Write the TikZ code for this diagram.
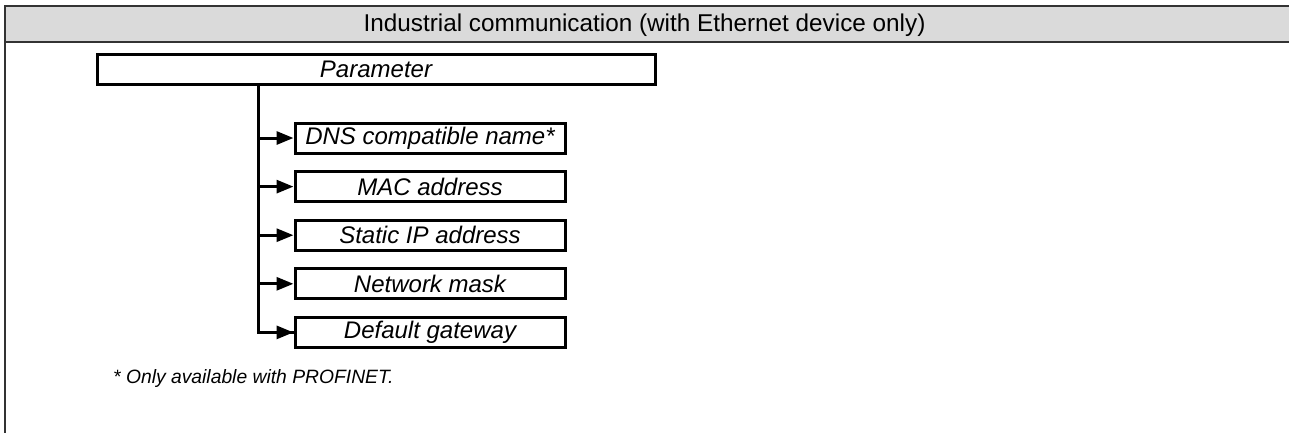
\documentclass[tikz,border=0pt]{standalone}
\usepackage{fontspec}
\setmainfont{Liberation Sans}
\usetikzlibrary{arrows.meta}
\definecolor{headgray}{HTML}{DADADA}
\definecolor{headline}{HTML}{333333}
\begin{document}
\begin{tikzpicture}[x=1pt,y=-1pt,
  pbox/.style={draw=black,line width=3pt,minimum height=30pt,inner sep=0pt,
    font=\fontsize{24}{28}\selectfont\itshape},
  cbox/.style={pbox,minimum width=270pt},
  arr/.style={line width=3pt,-{Triangle[length=17pt,width=13pt]}},
  trunk/.style={line width=3pt}]
\useasboundingbox (0,0) rectangle (1289,432);
% frame
\path[draw=headline,fill=headgray,line width=2.2pt] (5,6) rectangle (1300,42);
\draw[headline,line width=2pt] (5,42) -- (5,440);
\node[font=\fontsize{24.3}{28}\selectfont] (title) at (644.5,25.5) {Industrial communication (with Ethernet device only)};
% parameter box
\node[pbox,minimum width=558pt] (param) at (376,69.5) {Parameter};
% children
\node[cbox] (dns) at (430,138) {DNS compatible name*};
\node[cbox] (mac) at (430,186.6) {MAC address};
\node[cbox] (ip)  at (430,235.2) {Static IP address};
\node[cbox] (net) at (430,283.8) {Network mask};
\node[cbox] (gw)  at (430,332.4) {Default gateway};
\coordinate (ttop) at (258,84.5);
\draw[trunk] (ttop) |- (gw.west);
\draw[arr] (ttop |- gw.west) -- (gw.west);
\draw[arr] (ttop |- dns.west) -- (dns.west);
\draw[arr] (ttop |- mac.west) -- (mac.west);
\draw[arr] (ttop |- ip.west) -- (ip.west);
\draw[arr] (ttop |- net.west) -- (net.west);
% footnote
\node[anchor=west,font=\fontsize{19.3}{23}\selectfont\itshape,inner sep=0pt] (note) at (113,379) {* Only available with PROFINET.};
\end{tikzpicture}
\end{document}
